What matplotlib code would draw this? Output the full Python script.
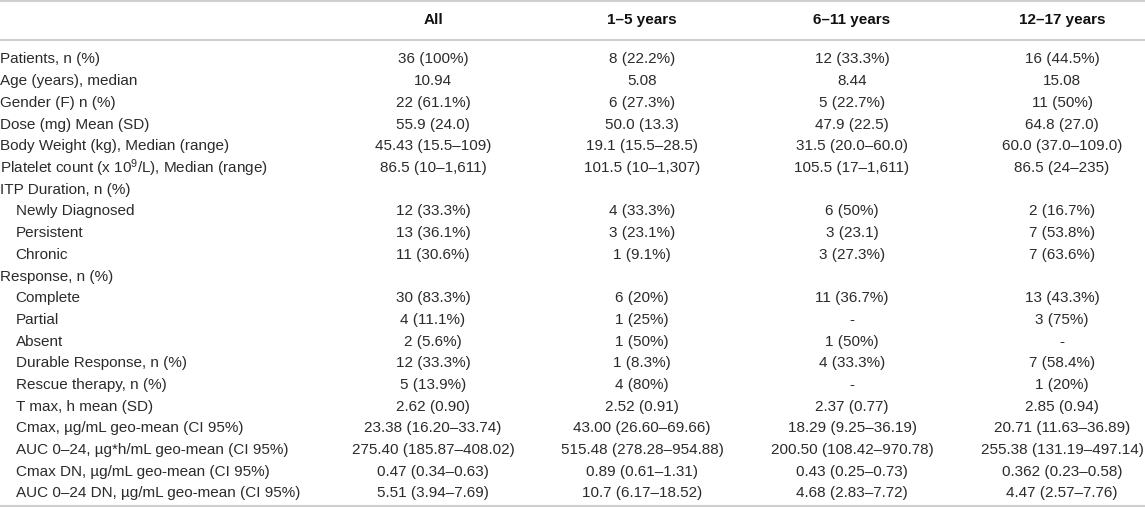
import matplotlib
matplotlib.use("Agg")
import matplotlib.pyplot as plt

plt.rcParams['font.family'] = ['Liberation Sans', 'DejaVu Sans']
plt.rcParams['mathtext.fontset'] = 'custom'
plt.rcParams['mathtext.rm'] = 'Liberation Sans'
plt.rcParams['mathtext.it'] = 'Liberation Sans'

headers = ["All", "1–5 years", "6–11 years", "12–17 years"]

row_labels = [
    "Patients, n (%)",
    "Age (years), median",
    "Gender (F) n (%)",
    "Dose (mg) Mean (SD)",
    "Body Weight (kg), Median (range)",
    "Platelet count (x 10$^{9}$/L), Median (range)",
    "ITP Duration, n (%)",
    "Newly Diagnosed",
    "Persistent",
    "Chronic",
    "Response, n (%)",
    "Complete",
    "Partial",
    "Absent",
    "Durable Response, n (%)",
    "Rescue therapy, n (%)",
    "T max, h mean (SD)",
    "Cmax, µg/mL geo-mean (CI 95%)",
    "AUC 0–24, µg*h/mL geo-mean (CI 95%)",
    "Cmax DN, µg/mL geo-mean (CI 95%)",
    "AUC 0–24 DN, µg/mL geo-mean (CI 95%)",
]
indented = [False] * 7 + [True] * 3 + [False] + [True] * 10

col_all = ["36 (100%)", "10.94", "22 (61.1%)", "55.9 (24.0)", "45.43 (15.5–109)",
           "86.5 (10–1,611)", "", "12 (33.3%)", "13 (36.1%)", "11 (30.6%)", "",
           "30 (83.3%)", "4 (11.1%)", "2 (5.6%)", "12 (33.3%)", "5 (13.9%)",
           "2.62 (0.90)", "23.38 (16.20–33.74)", "275.40 (185.87–408.02)",
           "0.47 (0.34–0.63)", "5.51 (3.94–7.69)"]
col_1_5 = ["8 (22.2%)", "5.08", "6 (27.3%)", "50.0 (13.3)", "19.1 (15.5–28.5)",
           "101.5 (10–1,307)", "", "4 (33.3%)", "3 (23.1%)", "1 (9.1%)", "",
           "6 (20%)", "1 (25%)", "1 (50%)", "1 (8.3%)", "4 (80%)",
           "2.52 (0.91)", "43.00 (26.60–69.66)", "515.48 (278.28–954.88)",
           "0.89 (0.61–1.31)", "10.7 (6.17–18.52)"]
col_6_11 = ["12 (33.3%)", "8.44", "5 (22.7%)", "47.9 (22.5)", "31.5 (20.0–60.0)",
            "105.5 (17–1,611)", "", "6 (50%)", "3 (23.1)", "3 (27.3%)", "",
            "11 (36.7%)", "-", "1 (50%)", "4 (33.3%)", "-",
            "2.37 (0.77)", "18.29 (9.25–36.19)", "200.50 (108.42–970.78)",
            "0.43 (0.25–0.73)", "4.68 (2.83–7.72)"]
col_12_17 = ["16 (44.5%)", "15.08", "11 (50%)", "64.8 (27.0)", "60.0 (37.0–109.0)",
             "86.5 (24–235)", "", "2 (16.7%)", "7 (53.8%)", "7 (63.6%)", "",
             "13 (43.3%)", "3 (75%)", "-", "7 (58.4%)", "1 (20%)",
             "2.85 (0.94)", "20.71 (11.63–36.89)", "255.38 (131.19–497.14)",
             "0.362 (0.23–0.58)", "4.47 (2.57–7.76)"]
columns = [col_all, col_1_5, col_6_11, col_12_17]

W, H = 1145, 508
fig = plt.figure(figsize=(W / 100, H / 100), dpi=100)
ax = fig.add_axes([0, 0, 1, 1])
ax.set_xlim(0, W)
ax.set_ylim(H, 0)
ax.axis('off')

text_color = '#2b2b2b'
line_color = '#cfcfcf'
fs = 11

col_x = [433, 642, 852, 1062]
header_y = 20
row_y0 = 59.5
row_step = 21.7

for hx, h in zip(col_x, headers):
    ax.text(hx, header_y, h, ha='center', va='center', fontsize=fs,
            fontweight='bold', color='#111111')

for i, lab in enumerate(row_labels):
    y = row_y0 + i * row_step
    ax.text(15.5 if indented[i] else 0.5, y, lab, ha='left', va='center',
            fontsize=fs, color=text_color)
    for cx, col in zip(col_x, columns):
        if col[i]:
            ax.text(cx, y, col[i], ha='center', va='center', fontsize=fs,
                    color=text_color)

for ly in (1, 40, 505.5):
    ax.plot([0, W], [ly, ly], color=line_color, lw=1.5, solid_capstyle='butt')

fig.savefig("out.png", dpi=100, facecolor='white')
